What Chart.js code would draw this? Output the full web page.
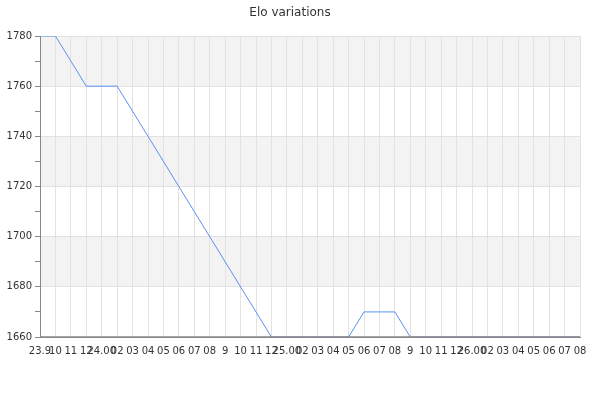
<!DOCTYPE html>
<html>
<head>
<meta charset="utf-8">
<script src="https://cdn.jsdelivr.net/npm/chart.js@4"></script>
<style>
  html, body { margin: 0; padding: 0; background: #fff; }
  #wrap { width: 600px; height: 400px; }
</style>
</head>
<body>
<div id="wrap"><canvas id="c" width="600" height="400"></canvas></div>
<script>
const labels = ['23.9', '10', '11', '12', '24.00', '02', '03', '04', '05', '06', '07', '08',
  '9', '10', '11', '12', '25.00', '02', '03', '04', '05', '06', '07', '08',
  '9', '10', '11', '12', '26.00', '02', '03', '04', '05', '06', '07', '08'];
const elo = [1780, 1780, 1770, 1760, 1760, 1760, 1750, 1740, 1730, 1720, 1710, 1700,
  1690, 1680, 1670, 1660, 1660, 1660, 1660, 1660, 1660, 1670, 1670, 1670,
  1660, 1660, 1660, 1660, 1660, 1660, 1660, 1660, 1660, 1660, 1660, 1660];
const bands = [[1760, 1780], [1720, 1740], [1680, 1700]];

// grey bands under the grid, axis line redrawn over the series
const bandPlugin = {
  id: 'bands',
  beforeDraw(chart) {
    const { ctx, chartArea, scales } = chart;
    ctx.save();
    ctx.fillStyle = '#f3f3f3';
    bands.forEach(b => {
      const top = scales.y.getPixelForValue(b[1]);
      const bottom = scales.y.getPixelForValue(b[0]);
      ctx.fillRect(chartArea.left, top, chartArea.right - chartArea.left, bottom - top);
    });
    ctx.restore();
  },
  afterDatasetsDraw(chart) {
    const { ctx, chartArea, scales } = chart;
    const y = scales.y.getPixelForValue(1660);
    ctx.save();
    ctx.strokeStyle = '#888';
    ctx.lineWidth = 1.5;
    ctx.beginPath();
    ctx.moveTo(chartArea.left, y);
    ctx.lineTo(chartArea.right, y);
    ctx.stroke();
    ctx.restore();
  }
};

new Chart(document.getElementById('c'), {
  type: 'line',
  data: {
    labels: labels,
    datasets: [{
      data: elo,
      borderColor: 'rgb(90,145,240)',
      borderWidth: 1,
      pointRadius: 0,
      tension: 0,
      fill: false
    }]
  },
  options: {
    responsive: false,
    animation: false,
    layout: { padding: { left: 0, right: 20, top: 0, bottom: 0 } },
    plugins: {
      legend: { display: false },
      tooltip: { enabled: false },
      title: {
        display: true,
        text: 'Elo variations',
        color: '#333',
        font: { family: 'DejaVu Sans', size: 12, weight: 'normal' },
        padding: { top: 6, bottom: 15.6 }
      }
    },
    scales: {
      x: {
        offset: false,
        afterFit(s) { s.height = 63; },
        grid: { color: '#e2e2e2', drawTicks: false },
        border: { color: '#888' },
        ticks: {
          autoSkip: false, maxRotation: 0, minRotation: 0,
          padding: 8, color: '#333',
          font: { family: 'DejaVu Sans', size: 10 }
        }
      },
      y: {
        min: 1660, max: 1780,
        afterFit(s) { s.width = 40; },
        grid: {
          color: ctx => (ctx.tick && ctx.tick.value % 20 === 0) ? '#e2e2e2' : 'rgba(0,0,0,0)',
          tickColor: '#888',
          tickLength: 5
        },
        border: { color: '#888' },
        ticks: {
          stepSize: 10,
          padding: 3,
          color: '#333',
          font: { family: 'DejaVu Sans', size: 10 },
          callback: v => (v % 20 === 0 ? v : '')
        }
      }
    }
  },
  plugins: [bandPlugin]
});
</script>
</body>
</html>
